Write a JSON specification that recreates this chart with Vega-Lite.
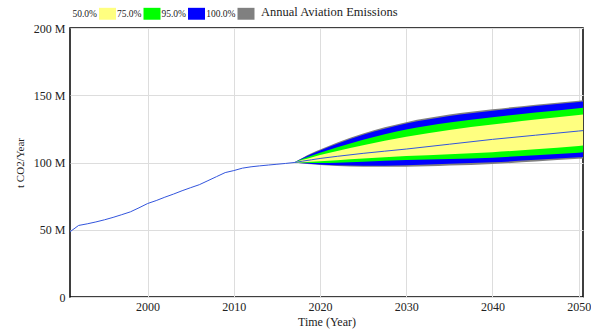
{
  "$schema": "https://vega.github.io/schema/vega-lite/v6.json",
  "width": 513,
  "height": 269,
  "autosize": {"type": "none"},
  "padding": {"left": 70, "top": 28, "right": 8, "bottom": 35},
  "background": "white",
  "config": {
    "font": "Liberation Serif",
    "view": {"stroke": "black", "strokeWidth": 1.5},
    "axis": {
      "grid": true, "gridColor": "#dddddd", "gridWidth": 1,
      "domain": false, "ticks": false,
      "labelFont": "Liberation Serif", "titleFont": "Liberation Serif",
      "labelColor": "#222222", "titleColor": "#222222",
      "labelFontSize": 12, "titleFontSize": 12, "titleFontWeight": "normal"
    }
  },
  "datasets": {
    "hist": [
      {"year": 1991, "value": 48.5}, {"year": 1992, "value": 53.2}, {"year": 1993, "value": 54.4},
      {"year": 1994, "value": 55.8}, {"year": 1995, "value": 57.4}, {"year": 1996, "value": 59.2},
      {"year": 1997, "value": 61.2}, {"year": 1998, "value": 63.3}, {"year": 1999, "value": 66.3},
      {"year": 2000, "value": 69.5}, {"year": 2001, "value": 71.7}, {"year": 2002, "value": 74.2},
      {"year": 2003, "value": 76.5}, {"year": 2004, "value": 79.0}, {"year": 2005, "value": 81.3},
      {"year": 2006, "value": 83.5}, {"year": 2007, "value": 86.5}, {"year": 2008, "value": 89.5},
      {"year": 2009, "value": 92.5}, {"year": 2010, "value": 94.0}, {"year": 2011, "value": 95.8},
      {"year": 2012, "value": 96.8}, {"year": 2013, "value": 97.5}, {"year": 2014, "value": 98.1},
      {"year": 2015, "value": 98.7}, {"year": 2016, "value": 99.3}, {"year": 2017, "value": 100.0}
    ],
    "median": [
      {"year": 2017, "value": 100.0}, {"year": 2018, "value": 101.0}, {"year": 2019, "value": 102.0},
      {"year": 2020, "value": 103.0}, {"year": 2022, "value": 104.6}, {"year": 2025, "value": 106.8},
      {"year": 2030, "value": 110.0}, {"year": 2035, "value": 113.6}, {"year": 2040, "value": 117.2},
      {"year": 2045, "value": 120.3}, {"year": 2050, "value": 123.4}, {"year": 2051, "value": 124.0}
    ],
    "fan": [
      {"band": "100.0%", "year": 2017, "lo": 100.0, "hi": 100.0},
      {"band": "100.0%", "year": 2018, "lo": 99.3, "hi": 103.6},
      {"band": "100.0%", "year": 2019, "lo": 98.7, "hi": 106.8},
      {"band": "100.0%", "year": 2020, "lo": 98.2, "hi": 109.6},
      {"band": "100.0%", "year": 2022, "lo": 97.4, "hi": 114.8},
      {"band": "100.0%", "year": 2025, "lo": 96.9, "hi": 121.6},
      {"band": "100.0%", "year": 2030, "lo": 96.8, "hi": 130.0},
      {"band": "100.0%", "year": 2035, "lo": 97.7, "hi": 135.6},
      {"band": "100.0%", "year": 2040, "lo": 98.9, "hi": 139.5},
      {"band": "100.0%", "year": 2045, "lo": 100.8, "hi": 143.0},
      {"band": "100.0%", "year": 2050, "lo": 102.8, "hi": 146.0},
      {"band": "100.0%", "year": 2051, "lo": 103.2, "hi": 146.6},
      {"band": "95.0%", "year": 2017, "lo": 100.0, "hi": 100.0},
      {"band": "95.0%", "year": 2018, "lo": 99.4, "hi": 103.3},
      {"band": "95.0%", "year": 2019, "lo": 98.9, "hi": 106.3},
      {"band": "95.0%", "year": 2020, "lo": 98.5, "hi": 109.0},
      {"band": "95.0%", "year": 2022, "lo": 97.9, "hi": 114.0},
      {"band": "95.0%", "year": 2025, "lo": 97.6, "hi": 120.6},
      {"band": "95.0%", "year": 2030, "lo": 98.0, "hi": 129.0},
      {"band": "95.0%", "year": 2035, "lo": 99.0, "hi": 134.6},
      {"band": "95.0%", "year": 2040, "lo": 100.1, "hi": 138.5},
      {"band": "95.0%", "year": 2045, "lo": 102.0, "hi": 142.0},
      {"band": "95.0%", "year": 2050, "lo": 103.9, "hi": 145.0},
      {"band": "95.0%", "year": 2051, "lo": 104.3, "hi": 145.6},
      {"band": "75.0%", "year": 2017, "lo": 100.0, "hi": 100.0},
      {"band": "75.0%", "year": 2018, "lo": 99.8, "hi": 102.7},
      {"band": "75.0%", "year": 2019, "lo": 99.7, "hi": 105.0},
      {"band": "75.0%", "year": 2020, "lo": 99.7, "hi": 107.2},
      {"band": "75.0%", "year": 2022, "lo": 99.9, "hi": 111.4},
      {"band": "75.0%", "year": 2025, "lo": 100.6, "hi": 117.0},
      {"band": "75.0%", "year": 2030, "lo": 101.8, "hi": 124.6},
      {"band": "75.0%", "year": 2035, "lo": 102.6, "hi": 129.8},
      {"band": "75.0%", "year": 2040, "lo": 103.6, "hi": 133.6},
      {"band": "75.0%", "year": 2045, "lo": 105.4, "hi": 137.1},
      {"band": "75.0%", "year": 2050, "lo": 107.3, "hi": 140.3},
      {"band": "75.0%", "year": 2051, "lo": 107.8, "hi": 141.0},
      {"band": "50.0%", "year": 2017, "lo": 100.0, "hi": 100.0},
      {"band": "50.0%", "year": 2018, "lo": 100.2, "hi": 102.0},
      {"band": "50.0%", "year": 2019, "lo": 100.5, "hi": 103.8},
      {"band": "50.0%", "year": 2020, "lo": 100.9, "hi": 105.5},
      {"band": "50.0%", "year": 2022, "lo": 101.7, "hi": 108.6},
      {"band": "50.0%", "year": 2025, "lo": 103.0, "hi": 112.8},
      {"band": "50.0%", "year": 2030, "lo": 104.8, "hi": 119.2},
      {"band": "50.0%", "year": 2035, "lo": 106.2, "hi": 124.2},
      {"band": "50.0%", "year": 2040, "lo": 107.6, "hi": 128.2},
      {"band": "50.0%", "year": 2045, "lo": 109.9, "hi": 131.9},
      {"band": "50.0%", "year": 2050, "lo": 112.3, "hi": 135.3},
      {"band": "50.0%", "year": 2051, "lo": 112.8, "hi": 136.0}
    ]
  },
  "layer": [
    {
      "data": {"name": "fan"},
      "mark": {"type": "area", "clip": true, "opacity": 1, "interpolate": "monotone"},
      "encoding": {
        "x": {
          "field": "year", "type": "quantitative",
          "scale": {"domain": [1991, 2050.5], "nice": false, "zero": false},
          "axis": {"title": "Time (Year)", "values": [2000, 2010, 2020, 2030, 2040, 2050], "format": "d", "labelPadding": 4, "titlePadding": 4}
        },
        "y": {
          "field": "lo", "type": "quantitative",
          "scale": {"domain": [0, 200], "nice": false},
          "axis": {
            "title": "t CO2/Year", "values": [0, 50, 100, 150, 200],
            "labelExpr": "datum.value == 0 ? '0' : datum.value + ' M'",
            "labelPadding": 5, "titleFontSize": 11,
            "titleX": -50, "titleY": 134.5, "titleBaseline": "middle", "titleAlign": "center", "titleAngle": -90
          }
        },
        "y2": {"field": "hi"},
        "color": {
          "field": "band", "type": "nominal",
          "scale": {"domain": ["50.0%", "75.0%", "95.0%", "100.0%"], "range": ["#ffff80", "#00ff00", "#0000ff", "#808080"]},
          "legend": {
            "orient": "none", "legendX": 29, "legendY": -23,
            "direction": "horizontal",
            "title": "Annual Aviation Emissions", "titleOrient": "right",
            "titleFont": "Liberation Serif", "titleFontSize": 12.5, "titleFontWeight": "normal", "titleColor": "#222222",
            "titlePadding": 6, "titleBaseline": "middle",
            "labelFont": "Liberation Serif", "labelFontSize": 9.5, "labelColor": "#222222",
            "symbolType": "M-1,-0.7H1V0.7H-1Z", "symbolSize": 289, "symbolStrokeWidth": 0, "symbolOpacity": 1,
            "labelAlign": "right", "labelOffset": -19, "columnPadding": 0.5, "padding": 0
          }
        }
      }
    },
    {
      "data": {"name": "median"},
      "mark": {"type": "line", "color": "#3355dd", "strokeWidth": 1, "clip": true, "interpolate": "monotone"},
      "encoding": {
        "x": {"field": "year", "type": "quantitative"},
        "y": {"field": "value", "type": "quantitative"}
      }
    },
    {
      "data": {"name": "hist"},
      "mark": {"type": "line", "color": "#3355dd", "strokeWidth": 1, "clip": true},
      "encoding": {
        "x": {"field": "year", "type": "quantitative"},
        "y": {"field": "value", "type": "quantitative"}
      }
    }
  ]
}
